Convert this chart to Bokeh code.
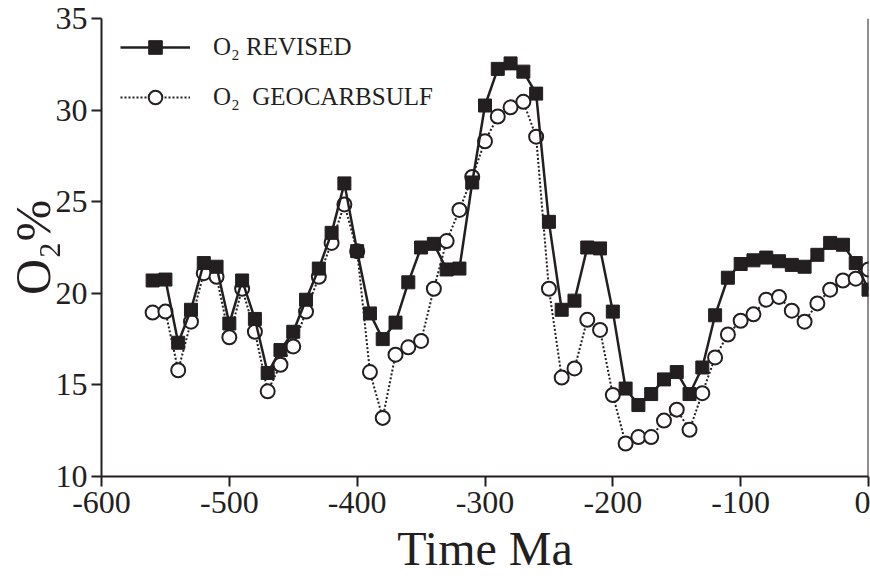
from bokeh.plotting import figure
from bokeh.models import Range1d, FixedTicker, Span, Legend, LegendItem
from bokeh.embed import file_html
from bokeh.resources import INLINE

# ---- data ----
time_ma = [-560, -550, -540, -530, -520, -510, -500, -490, -480, -470,
           -460, -450, -440, -430, -420, -410, -400, -390, -380, -370,
           -360, -350, -340, -330, -320, -310, -300, -290, -280, -270,
           -260, -250, -240, -230, -220, -210, -200, -190, -180, -170,
           -160, -150, -140, -130, -120, -110, -100, -90, -80, -70,
           -60, -50, -40, -30, -20, -10, 0]

o2_revised = [20.7, 20.75, 17.3, 19.1, 21.65, 21.45, 18.35, 20.7, 18.6, 15.65,
              16.9, 17.9, 19.65, 21.35, 23.3, 26.0, 22.3, 18.9, 17.5, 18.4,
              20.6, 22.5, 22.7, 21.3, 21.35, 26.05, 30.25, 32.25, 32.55, 32.1,
              30.9, 23.9, 19.1, 19.6, 22.5, 22.45, 19.0, 14.8, 13.9, 14.5,
              15.3, 15.7, 14.5, 15.95, 18.8, 20.85, 21.6, 21.8, 21.95, 21.75,
              21.55, 21.45, 22.1, 22.75, 22.65, 21.65, 20.2]

o2_geocarbsulf = [18.95, 19.0, 15.8, 18.45, 21.1, 20.9, 17.6, 20.25, 17.9, 14.65,
                  16.1, 17.1, 19.0, 20.9, 22.75, 24.85, 22.3, 15.7, 13.2, 16.65,
                  17.05, 17.4, 20.25, 22.85, 24.55, 26.35, 28.3, 29.65, 30.15, 30.45,
                  28.55, 20.25, 15.4, 15.9, 18.55, 18.0, 14.45, 11.8, 12.15, 12.15,
                  13.05, 13.65, 12.55, 14.55, 16.5, 17.75, 18.5, 18.85, 19.65, 19.8,
                  19.05, 18.45, 19.45, 20.2, 20.7, 20.8, 21.3]

x_ticks = [-600, -500, -400, -300, -200, -100, 0]
y_ticks = [10, 15, 20, 25, 30, 35]

series_labels = ["O\u2082 REVISED", "O\u2082  GEOCARBSULF"]
x_title = "Time Ma"
y_title = "O\u2082%"

INK = "#231f20"
FONT = "Liberation Serif"

p = figure(width=870, height=578, output_backend="svg", toolbar_location=None,
           x_range=Range1d(-600, 0), y_range=Range1d(10, 35),
           min_border_left=101, min_border_right=2, min_border_top=18,
           min_border_bottom=102)
p.xgrid.visible = False
p.ygrid.visible = False
p.outline_line_color = None
p.background_fill_color = "white"
p.border_fill_color = "white"

p.xaxis.ticker = FixedTicker(ticks=x_ticks)
p.yaxis.ticker = FixedTicker(ticks=y_ticks)
p.xaxis.major_label_overrides = {t: str(t) for t in x_ticks}
for ax in p.axis:
    ax.axis_line_width = 2
    ax.axis_line_color = INK
    ax.major_tick_line_width = 2
    ax.major_tick_line_color = INK
    ax.major_tick_in = 0
    ax.major_tick_out = 10
    ax.minor_tick_line_color = None
    ax.major_label_text_font = FONT
    ax.major_label_text_font_size = "32px"
    ax.major_label_text_color = INK
    ax.axis_label_text_font = FONT
    ax.axis_label_text_font_style = "normal"
    ax.axis_label_text_color = INK
    ax.axis_label_text_line_height = 1.0
p.xaxis.axis_label_text_font_size = "48px"
p.yaxis.axis_label_text_font_size = "50px"
p.xaxis.major_label_standoff = 5
p.yaxis.major_label_standoff = 4
p.xaxis.axis_label = x_title
p.yaxis.axis_label = y_title
p.xaxis.axis_label_standoff = 6
p.yaxis.axis_label_standoff = -8

# right frame line
p.add_layout(Span(location=0, dimension="height", line_color=INK, line_width=2))

# GEOCARBSULF series
g_line = p.line(time_ma, o2_geocarbsulf, line_color=INK, line_width=2, line_dash="2 2")
g_pts = p.scatter(time_ma, o2_geocarbsulf, marker="circle", size=14,
                  fill_color="white", line_color=INK, line_width=2)
# Revised series
r_line = p.line(time_ma, o2_revised, line_color=INK, line_width=2.5)
r_pts = p.scatter(time_ma, o2_revised, marker="square", size=13,
                  fill_color=INK, line_color=INK, line_width=1)

legend = Legend(items=[LegendItem(label=series_labels[0], renderers=[r_line, r_pts]),
                       LegendItem(label=series_labels[1], renderers=[g_line, g_pts])],
                location=(19, 362),
                label_text_font=FONT, label_text_font_size="25px", label_text_color=INK,
                glyph_width=70, glyph_height=34, label_height=34, label_standoff=23,
                spacing=16, margin=0, padding=0,
                border_line_color=None, background_fill_alpha=0)
p.add_layout(legend)

open("out.html", "w").write(file_html(p, INLINE))
